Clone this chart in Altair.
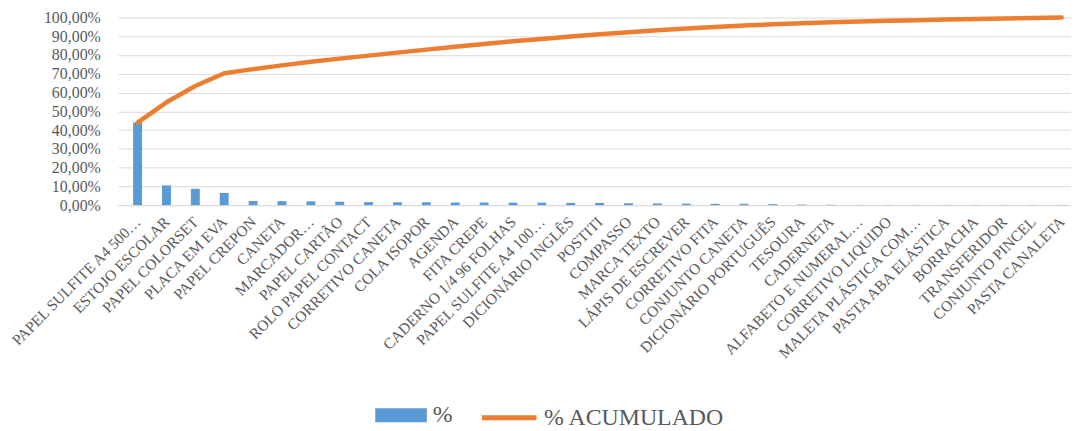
import json
import altair as alt
import pandas as pd

categories = [
    "PAPEL SULFITE A4 500…", "ESTOJO ESCOLAR", "PAPEL COLORSET", "PLACA EM EVA",
    "PAPEL CREPON", "CANETA", "MARCADOR…", "PAPEL CARTÃO", "ROLO PAPEL CONTACT",
    "CORRETIVO CANETA", "COLA ISOPOR", "AGENDA", "FITA CREPE",
    "CADERNO 1/4  96 FOLHAS", "PAPEL SULFITE A4 100…", "DICIONÁRIO INGLÊS",
    "POSTITI", "COMPASSO", "MARCA TEXTO", "LÁPIS DE ESCREVER", "CORRETIVO FITA",
    "CONJUNTO CANETA", "DICIONÁRIO PORTUGUÊS", "TESOURA", "CADERNETA",
    "ALFABETO E NUMERAL…", "CORRETIVO LIQUIDO", "MALETA PLÁSTICA COM…",
    "PASTA ABA ELÁSTICA", "BORRACHA", "TRANSFERIDOR", "CONJUNTO PINCEL",
    "PASTA CANALETA",
]

pct = [44.0, 10.5, 8.7, 6.5, 2.2, 2.1, 2.0, 1.8, 1.6, 1.5, 1.5, 1.4, 1.4,
       1.3, 1.3, 1.2, 1.2, 1.0, 0.9, 0.8, 0.7, 0.7, 0.5, 0.3, 0.2, 0.1,
       0.1, 0.1, 0.1, 0.1, 0.1, 0.1, 0.1]

cum = [44.0, 54.8, 63.5, 70.3, 72.5, 74.5, 76.4, 78.1, 79.7, 81.3, 82.9,
       84.4, 85.9, 87.3, 88.6, 89.9, 91.1, 92.2, 93.2, 94.1, 94.9, 95.7,
       96.4, 97.0, 97.5, 97.9, 98.3, 98.6, 98.9, 99.2, 99.5, 99.8, 100.0]

series_names = ["%", "% ACUMULADO"]
y_ticks = [0, 10, 20, 30, 40, 50, 60, 70, 80, 90, 100]

n = len(categories)
df = pd.DataFrame({
    "idx": list(range(n)),
    "item": categories,
    "pct": pct,
    "cum": cum,
    "s_bar": [series_names[0]] * n,
    "s_line": [series_names[1]] * n,
})

FONT = "Liberation Serif"
GREY = "#595959"
GRID = "#D9D9D9"
BLUE = "#5B9BD5"
ORANGE = "#ED7D31"

label_lookup = json.dumps(categories, ensure_ascii=False) + "[datum.value]"

x_scale = alt.Scale(domain=[-0.5, 32.15], nice=False, zero=False)
x_axis = alt.Axis(
    values=list(range(n)), labelExpr=label_lookup,
    labelAngle=-45, labelAlign="right", labelBaseline="middle",
    labelPadding=14, ticks=False, grid=False,
    domainColor=GRID, domainWidth=1,
    labelFont=FONT, labelFontSize=15.5, labelColor=GREY,
    labelLimit=0, labelOverlap=False, labelFlush=False, labelBound=False,
)

y_scale = alt.Scale(domain=[0, 100], nice=False)
y_axis = alt.Axis(
    values=y_ticks, ticks=False, domain=False, grid=True,
    gridColor=GRID, gridWidth=1, labelOverlap=False, labelBound=False,
    labelFont=FONT, labelFontSize=16, labelColor=GREY, labelPadding=18,
    labelExpr="replace(format(datum.value, '.2f'), '.', ',') + '%'",
)

x_enc = alt.X("idx:Q", title=None, scale=x_scale, axis=x_axis)

bars = alt.Chart(df).mark_bar(size=9).encode(
    x=x_enc,
    y=alt.Y("pct:Q", title=None, scale=y_scale, axis=y_axis),
    color=alt.Color(
        "s_bar:N",
        scale=alt.Scale(domain=[series_names[0]], range=[BLUE]),
        legend=alt.Legend(
            title=None, orient="none", legendX=259, legendY=374.7, padding=0,
            symbolType="M-1,-0.27H1V0.27H-1Z", symbolSize=2704,
            symbolStrokeWidth=0, symbolOpacity=1, labelLimit=0,
            labelFont=FONT, labelFontSize=24, labelColor=GREY, labelOffset=6,
        ),
    ),
)

line = alt.Chart(df).mark_line(strokeWidth=4.5, strokeCap="round", strokeJoin="round").encode(
    x=x_enc,
    y=alt.Y("cum:Q", title=None, scale=y_scale, axis=y_axis),
    color=alt.Color(
        "s_line:N",
        scale=alt.Scale(domain=[series_names[1]], range=[ORANGE]),
        legend=alt.Legend(
            title=None, orient="none", legendX=364, legendY=373.2, padding=0,
            symbolType="stroke", symbolSize=3025, symbolStrokeWidth=5, labelLimit=0,
            labelFont=FONT, labelFontSize=24, labelColor=GREY, labelOffset=5,
        ),
    ),
)

chart = (
    alt.layer(bars, line)
    .resolve_scale(color="independent")
    .properties(
        width=960, height=189,
        autosize=alt.AutoSizeParams(type="none"),
        padding={"left": 111, "top": 8, "right": 0, "bottom": 226},
        background="white",
    )
    .configure_view(stroke=None)
    .configure_axis(labelOverlap=False)
)

chart.save("out.html", embed_options={"renderer": "svg", "actions": False})
